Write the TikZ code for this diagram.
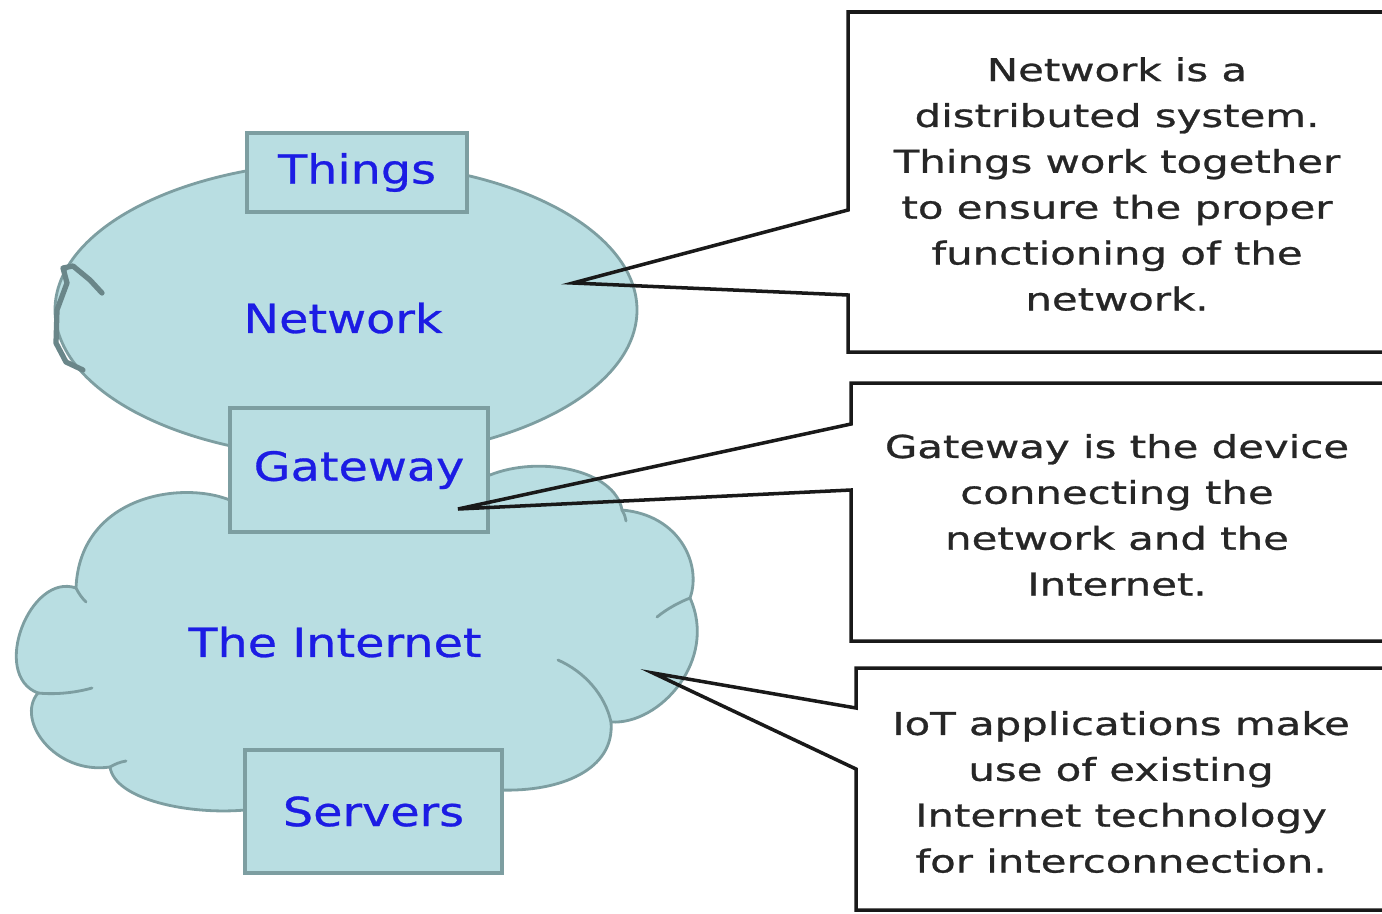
\documentclass[tikz,border=0pt]{standalone}
\usepackage{fontspec}
\newfontfamily\notefont[FakeStretch=1.33, FakeBold=0.9]{DejaVu Sans}
\newfontfamily\partfont[FakeStretch=1.19, FakeBold=0.7]{DejaVu Sans}
\definecolor{puffFill}{RGB}{185,222,226}
\definecolor{puffLine}{RGB}{125,158,161}
\definecolor{partBlue}{RGB}{28,28,228}
\begin{document}
\begin{tikzpicture}[x=0.02cm, y=-0.02cm,
    puff/.style={fill=puffFill, draw=puffLine, line width=1.6pt},
    tick/.style={draw=puffLine, line width=1.6pt, line cap=round},
    part/.style={rectangle, fill=puffFill, draw=puffLine, line width=2pt, font=\partfont\fontsize{22.8}{27}\selectfont, text=partBlue},
    cloudtext/.style={font=\partfont\fontsize{22.8}{27}\selectfont, text=partBlue},
    note/.style={align=center, text=black!85, font=\notefont\fontsize{17.9}{26.1}\selectfont},
    callout/.style={draw=black!90, line width=2pt, line join=miter}
]
    \useasboundingbox (0,0) rectangle (1382,913);

    % Netzwerk
    \draw[puff] (346,310) ellipse [x radius=291, y radius=148];
    \draw[draw=puffLine!85!black, line width=3pt, line join=round, line cap=round]
        (102,293) -- (90,280) -- (73,266) -- (63,268) -- (67,283) -- (57,310) -- (56,343) -- (66,362) -- (83,370);

    % Internet
    \draw[puff] (240,505)
        .. controls (195,478) and (80,490) .. (76,588)
        .. controls (30,572) and (-10,675) .. (38,693)
        .. controls (15,720) and (55,775) .. (110,767)
        .. controls (115,800) and (190,815) .. (245,810)
        -- (500,790)
        .. controls (560,792) and (615,770) .. (611,722)
        .. controls (660,725) and (718,660) .. (690,598)
        .. controls (702,565) and (680,515) .. (622,510)
        .. controls (615,470) and (540,455) .. (490,475)
        -- cycle;
    \draw[tick] (76,588) .. controls (79,594) and (82,598) .. (86,602);
    \draw[tick] (38,693) .. controls (58,695) and (78,692) .. (92,688);
    \draw[tick] (110,767) .. controls (115,764) and (120,762) .. (126,761);
    \draw[tick] (611,722) .. controls (605,695) and (585,672) .. (558,660);
    \draw[tick] (690,598) .. controls (680,602) and (668,608) .. (657,617);
    \draw[tick] (622,510) .. controls (624,513) and (625,516) .. (626,521);

    \node[cloudtext] (network) at (343,318) {Network};
    \node[cloudtext] (internet) at (335,642) {The Internet};

    % Kaesten
    \node[part, minimum width=4.4cm, minimum height=1.58cm] (things) at (357,172.5) {Things};
    \node[part, minimum width=5.16cm, minimum height=2.48cm] (gateway) at (359,470) {Gateway};
    \node[part, minimum width=5.14cm, minimum height=2.46cm] (servers) at (373.5,811.5) {Servers};

    % Erlaeuterungen
    \coordinate (tip1) at (573,283);
    \coordinate (tip2) at (458,509);
    \coordinate (tip3) at (653,673);

    \draw[callout] (1386,12) -- (848,12) -- (848,210) -- (tip1) -- (848,295) -- (848,352) -- (1386,352);
    \draw[callout] (1386,383) -- (851,383) -- (851,424) -- (tip2) -- (851,490) -- (851,641) -- (1386,641);
    \draw[callout] (1386,668) -- (856,668) -- (856,708) -- (tip3) -- (856,769) -- (856,910) -- (1386,910);

    \node[note] (note1) at (1117,184) {Network is a\\distributed system.\\Things work together\\to ensure the proper\\functioning of the\\network.};
    \node[note] (note2) at (1117,515) {Gateway is the device\\connecting the\\network and the\\Internet.};
    \node[note] (note3) at (1121,792) {IoT applications make\\use of existing\\Internet technology\\for interconnection.};
\end{tikzpicture}
\end{document}
